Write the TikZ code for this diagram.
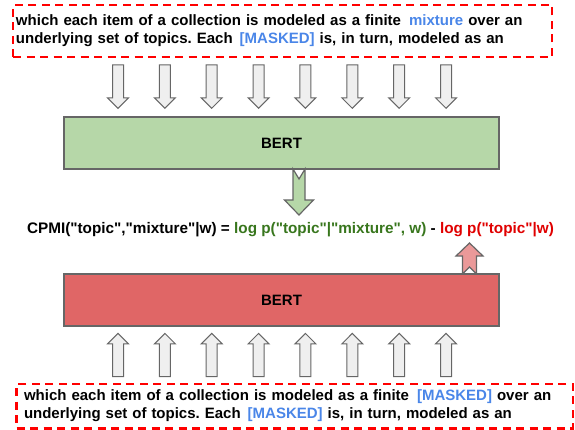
\documentclass[tikz,border=0pt]{standalone}
\usepackage{fontspec}
\setmainfont{Liberation Sans}[Ligatures=TeXOff]
\usetikzlibrary{shapes.arrows}
\frenchspacing

\definecolor{maskblue}{HTML}{4A86E8}
\definecolor{loggreen}{HTML}{38761D}
\definecolor{logred}{HTML}{E00000}
\definecolor{edgegray}{HTML}{666666}
\definecolor{tokgray}{HTML}{EFEFEF}
\definecolor{bertgreen}{HTML}{B6D7A8}
\definecolor{bertred}{HTML}{E06666}
\definecolor{arrowred}{HTML}{EA9999}

\begin{document}
\begin{tikzpicture}[x=1pt,y=-1pt]
\tikzstyle{every node}=[font=\fontsize{15}{18}\selectfont\bfseries, outer sep=0pt]
\tikzstyle{passage}=[draw=red, line width=2.6pt, dash pattern=on 8pt off 5.5pt, align=left, inner ysep=0pt, anchor=north west]
\tikzstyle{bert}=[draw=edgegray, line width=1.2pt, minimum width=435pt, minimum height=52pt]
\tikzstyle{tokarrow}=[single arrow, draw=edgegray, fill=tokgray, line width=1pt, minimum height=43.3pt, inner xsep=0pt, inner ysep=5pt, single arrow head extend=5pt, anchor=tail]
\tikzstyle{notched}=[draw=edgegray, line width=1.2pt, line join=miter]
\useasboundingbox (0,0) rectangle (575,430);

% input with the word kept
\node[passage, text width=533pt, inner xsep=3pt, minimum height=52pt] (ctx) at (13,5)
  {which each item of a collection is modeled as a finite \hspace{3pt}\textcolor{maskblue}{mixture} over an\\
   underlying set of topics. Each \hspace{2pt}\textcolor{maskblue}{[MASKED]} is, in turn, modeled as an};

\node[tokarrow, rotate=-90] (d1) at (118,65) {};
\node[tokarrow, rotate=-90] (d2) at (164.9,65) {};
\node[tokarrow, rotate=-90] (d3) at (211.7,65) {};
\node[tokarrow, rotate=-90] (d4) at (258.6,65) {};
\node[tokarrow, rotate=-90] (d5) at (305.4,65) {};
\node[tokarrow, rotate=-90] (d6) at (352.3,65) {};
\node[tokarrow, rotate=-90] (d7) at (399.2,65) {};
\node[tokarrow, rotate=-90] (d8) at (446,65) {};

\node[bert, fill=bertgreen] (bertw) at (281.5,143) {BERT};

% notched arrow down to the first term
\draw[notched, fill=bertgreen] (293,169) -- ++(6,10) -- ++(6,-10) -- ++(0,31) -- ++(8.5,0)
  -- ++(-14.5,15) -- ++(-14.5,-15) -- ++(8.5,0) -- cycle;

\node[font=\fontsize{15.3}{18}\selectfont\bfseries] (cpmi) at (290.5,230)
  {CPMI("topic","mixture"|w) = \textcolor{loggreen}{log p("topic"|"mixture", w)} - \textcolor{logred}{log p("topic"|w)}};

% notched arrow up to the second term
\draw[notched, fill=arrowred] (462.5,274) -- ++(7,-7) -- ++(7,7) -- ++(0,-18) -- ++(6.5,0)
  -- ++(-13.5,-13) -- ++(-13.5,13) -- ++(6.5,0) -- cycle;

\node[bert, fill=bertred] (bertm) at (281.5,300) {BERT};

\node[tokarrow, rotate=90] (u1) at (118,376.7) {};
\node[tokarrow, rotate=90] (u2) at (164.9,376.7) {};
\node[tokarrow, rotate=90] (u3) at (211.7,376.7) {};
\node[tokarrow, rotate=90] (u4) at (258.6,376.7) {};
\node[tokarrow, rotate=90] (u5) at (305.4,376.7) {};
\node[tokarrow, rotate=90] (u6) at (352.3,376.7) {};
\node[tokarrow, rotate=90] (u7) at (399.2,376.7) {};
\node[tokarrow, rotate=90] (u8) at (446,376.7) {};

% input with both words masked
\node[passage, text width=541.7pt, inner xsep=7.3pt, minimum height=44.3pt] (ctxm) at (16.7,384)
  {which each item of a collection is modeled as a finite \hspace{3pt}\textcolor{maskblue}{[MASKED]} over an\\
   underlying set of topics. Each \hspace{2pt}\textcolor{maskblue}{[MASKED]} is, in turn, modeled as an};
\end{tikzpicture}
\end{document}
